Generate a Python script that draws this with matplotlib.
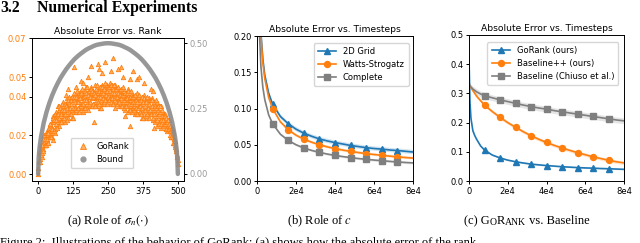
import matplotlib.pyplot as plt
import numpy as np
from matplotlib.lines import Line2D

# (a) Absolute error vs. rank. GoRank errors are given in units of 1e-3.
gorank_rank_even = np.arange(0, 501, 2)
gorank_err_even_milli = [
    0, 6, 6, 11, 8, 12, 9, 14, 16, 13, 16, 19, 15, 15, 20, 17, 20, 23, 16, 22, 19, 26, 21, 22, 19,
    27, 23, 30, 22, 27, 21, 29, 32, 25, 29, 35, 28, 25, 33, 28, 32, 35, 27, 33, 29, 37, 31, 32, 27, 36,
    29, 35, 39, 33, 29, 37, 34, 31, 39, 36, 29, 40, 33, 38, 32, 42, 35, 39, 32, 37, 41, 34, 38, 42, 35,
    41, 36, 43, 34, 39, 32, 40, 42, 35, 38, 45, 38, 34, 42, 37, 40, 43, 35, 41, 36, 45, 39, 40, 35, 43,
    36, 42, 46, 39, 35, 43, 40, 37, 44, 41, 34, 45, 38, 42, 36, 46, 40, 44, 36, 41, 45, 38, 42, 46, 39,
    42, 38, 45, 47, 39, 36, 43, 41, 46, 37, 44, 40, 46, 34, 42, 44, 37, 41, 38, 44, 35, 43, 40, 35, 42,
    42, 37, 44, 35, 40, 33, 41, 42, 35, 38, 44, 37, 33, 40, 35, 38, 41, 33, 39, 34, 41, 35, 36, 31, 39,
    32, 38, 42, 35, 31, 39, 35, 32, 39, 36, 29, 40, 33, 37, 31, 41, 33, 37, 29, 34, 38, 31, 35, 39, 32,
    35, 31, 38, 39, 31, 28, 35, 33, 37, 28, 35, 31, 37, 25, 33, 35, 27, 31, 28, 35, 24, 32, 29, 25, 30,
    31, 26, 31, 24, 27, 22, 28, 28, 23, 24, 28, 22, 19, 24, 19, 21, 22, 16, 18, 14, 17, 13, 13, 9, 10,
    5,
]
gorank_rank_odd = np.arange(1, 500, 2)
gorank_err_odd_milli = [
    3, 7, 6, 12, 10, 15, 11, 15, 12, 18, 20, 15, 18, 15, 21, 18, 21, 16, 21, 24, 19, 26, 19, 24, 22,
    23, 29, 22, 28, 31, 23, 28, 26, 31, 24, 31, 35, 29, 27, 34, 31, 27, 33, 36, 30, 29, 33, 36, 31, 35,
    35, 28, 34, 38, 32, 40, 31, 34, 38, 31, 40, 34, 29, 38, 40, 34, 37, 33, 40, 43, 34, 37, 39, 32, 41,
    39, 35, 42, 44, 36, 33, 40, 38, 43, 34, 42, 38, 45, 33, 41, 43, 36, 40, 37, 44, 35, 43, 40, 36, 42,
    42, 35, 41, 44, 38, 46, 37, 40, 43, 36, 45, 40, 34, 43, 45, 39, 42, 37, 44, 47, 38, 41, 43, 36, 45,
    40, 45, 38, 43, 46, 37, 42, 39, 44, 36, 42, 46, 39, 37, 44, 40, 36, 42, 45, 38, 37, 41, 44, 39, 41,
    35, 41, 45, 38, 34, 42, 39, 35, 42, 39, 32, 43, 36, 40, 33, 43, 36, 40, 32, 37, 40, 33, 37, 41, 34,
    38, 31, 37, 40, 34, 41, 32, 35, 38, 31, 40, 34, 29, 37, 39, 33, 35, 30, 37, 40, 31, 34, 36, 29, 38,
    33, 38, 31, 35, 38, 29, 34, 31, 35, 27, 34, 38, 30, 28, 35, 31, 26, 32, 35, 28, 26, 30, 33, 28, 30,
    26, 30, 26, 29, 23, 27, 28, 23, 26, 23, 20, 25, 23, 19, 24, 19, 21, 16, 18, 15, 17, 12, 13, 9, 7,
]
outlier_rank = [128, 179, 188, 213, 219, 240, 269, 287, 295, 341, 327, 353, 362, 152, 135,
                108, 404, 410, 201, 329, 415, 311, 54, 230, 262, 305, 380, 98, 160]
outlier_err_milli = [55, 50, 56, 57, 54, 58, 60, 54, 55, 53, 49, 49, 50, 48, 45,
                     44, 44, 43, 27, 25, 24, 30, 17.5, 52, 53, 50, 47, 41, 47]

bound_rank = [0, 2, 5] + list(range(10, 500, 10)) + [495, 498, 500]
bound_val = [
    0, 0.063, 0.0995,
    0.14, 0.196, 0.237, 0.271, 0.3, 0.325, 0.347, 0.367, 0.384, 0.4, 0.414, 0.427, 0.439,
    0.449, 0.458, 0.466, 0.474, 0.48, 0.485, 0.49, 0.494, 0.496, 0.498, 0.4996, 0.5,
    0.4996, 0.498, 0.496, 0.494, 0.49, 0.485, 0.48, 0.474, 0.466, 0.458, 0.449, 0.439,
    0.427, 0.414, 0.4, 0.384, 0.367, 0.347, 0.325, 0.3, 0.271, 0.237, 0.196, 0.14,
    0.0995, 0.063, 0,
]

# (b) Role of c.
steps_b = [500, 1000, 2000, 3000, 4000, 6000] + list(range(8000, 80001, 4000))
grid_err = [0.41, 0.29, 0.205, 0.168, 0.146, 0.121, 0.106, 0.089, 0.079, 0.0715, 0.066, 0.0617,
            0.058, 0.0553, 0.053, 0.051, 0.049, 0.0475, 0.046, 0.0448, 0.044, 0.0428, 0.042,
            0.041, 0.040]
watts_err = [0.4, 0.283, 0.2, 0.163, 0.141, 0.115, 0.100, 0.0816, 0.0707, 0.0632, 0.0577,
             0.0535, 0.05, 0.0471, 0.0447, 0.0426, 0.0408, 0.0392, 0.0378, 0.0365, 0.0354,
             0.0343, 0.0333, 0.0324, 0.0316]
complete_err = [0.32, 0.22, 0.158, 0.129, 0.112, 0.091, 0.079, 0.0645, 0.056, 0.050, 0.0456,
                0.0422, 0.0395, 0.0372, 0.0353, 0.0337, 0.0323, 0.031, 0.0299, 0.0289, 0.028,
                0.0271, 0.0263, 0.0256, 0.025]
band_b = [0.003, 0.002, 0.0015]

# (c) GoRank vs. baselines.
steps_c = [0, 500, 1000, 2000, 3000, 4000, 6000] + list(range(8000, 80001, 4000))
gorank_err = [0.42, 0.27, 0.215, 0.172, 0.155, 0.142, 0.12, 0.106, 0.089, 0.079, 0.0715, 0.066,
              0.0617, 0.058, 0.0553, 0.053, 0.051, 0.049, 0.0475, 0.046, 0.0448, 0.044, 0.0428,
              0.042, 0.041, 0.040]
baselinepp_err = [0.33, 0.325, 0.32, 0.31, 0.30, 0.29, 0.275, 0.26, 0.238, 0.218, 0.20, 0.184,
                  0.169, 0.155, 0.143, 0.132, 0.122, 0.113, 0.105, 0.097, 0.090, 0.083, 0.077,
                  0.071, 0.066, 0.062]
baseline_err = [0.33, 0.326, 0.322, 0.315, 0.31, 0.305, 0.298, 0.292, 0.285, 0.278, 0.272,
                0.266, 0.26, 0.255, 0.25, 0.246, 0.241, 0.237, 0.233, 0.229, 0.225, 0.221,
                0.217, 0.213, 0.209, 0.206]
band_c = [0.002, 0.006, 0.01]

BLUE, ORANGE, GRAY = "#1f77b4", "#ff7f0e", "#7f7f7f"
TICK_FS, TITLE_FS, LEG_FS = 6, 6.6, 6

plt.rcParams["mathtext.fontset"] = "stix"
fig = plt.figure(figsize=(6.4, 2.43), dpi=100)
W, H = 640, 243


def add_axes_px(left, top, right, bottom):
    return fig.add_axes([left / W, 1 - bottom / H, (right - left) / W, (bottom - top) / H])


def style(ax):
    ax.tick_params(labelsize=TICK_FS, length=2.5, width=0.7, pad=1.5)
    for s in ax.spines.values():
        s.set_linewidth(0.7)


# Panel (a).
ax_a = add_axes_px(32, 38, 184, 181)
ax_b2 = ax_a.twinx()
tri = dict(marker="^", s=10, facecolor="#ffb066", edgecolor=ORANGE, linewidth=0.6, zorder=2)
ax_a.scatter(gorank_rank_even, np.array(gorank_err_even_milli) / 1000, **tri)
ax_a.scatter(gorank_rank_odd, np.array(gorank_err_odd_milli) / 1000, **tri)
ax_a.scatter(outlier_rank, np.array(outlier_err_milli) / 1000, **tri)
ax_b2.plot(bound_rank, bound_val, color="#8c8c8c", lw=3.2, alpha=0.9,
           solid_capstyle="round")
ax_a.set_xlim(-22, 522)
ax_a.set_ylim(-0.0036, 0.0702)
ax_a.set_yticks([0, 0.02, 0.04, 0.05, 0.07])
ax_a.set_xticks([0, 125, 250, 375, 500])
ax_b2.set_ylim(-0.027, 0.52)
ax_b2.set_yticks([0, 0.25, 0.5])
style(ax_a)
style(ax_b2)
ax_a.tick_params(axis="y", labelcolor=ORANGE)
ax_b2.tick_params(axis="y", labelcolor="#999999")
ax_a.set_title("Absolute Error vs. Rank", fontsize=TITLE_FS, pad=3)
handles = [
    Line2D([], [], ls="none", marker="^", ms=4, mfc="#ffb066", mec=ORANGE, mew=0.6),
    Line2D([], [], ls="none", marker="o", ms=3.5, color="#999999"),
]
ax_b2.legend(handles, ["GoRank", "Bound"], loc="lower center", bbox_to_anchor=(0.46, 0.06),
             fontsize=LEG_FS, handletextpad=0.6, borderpad=0.5, labelspacing=0.5)

# Panel (b).
ax_b = add_axes_px(257, 36, 413, 181)
marks_b = [i for i, s in enumerate(steps_b) if s % 8000 == 0 and s < 80000]
for vals, band, col, mk, lab in zip([grid_err, watts_err, complete_err], band_b,
                                    [BLUE, ORANGE, GRAY], ["^", "o", "s"],
                                    ["2D Grid", "Watts-Strogatz", "Complete"]):
    v = np.array(vals)
    ax_b.fill_between(steps_b, v - band, v + band, color=col, alpha=0.2, lw=0)
    ax_b.plot(steps_b, v, color=col, lw=1.2, marker=mk, ms=4.3, markevery=marks_b, label=lab)
ax_b.set_xlim(0, 80000)
ax_b.set_ylim(0, 0.2)
ax_b.set_yticks([0, 0.05, 0.10, 0.15, 0.20])
ax_b.set_xticks([0, 20000, 40000, 60000, 80000])
ax_b.set_xticklabels(["0", "2e4", "4e4", "6e4", "8e4"])
style(ax_b)
ax_b.set_title("Absolute Error vs. Timesteps", fontsize=TITLE_FS, pad=3)
ax_b.legend(loc="upper right", fontsize=LEG_FS, borderpad=0.5, labelspacing=0.45,
            handlelength=2.2, bbox_to_anchor=(1.0, 0.98))

# Panel (c).
ax_c = add_axes_px(469, 35, 624, 181)
marks_c = [i for i, s in enumerate(steps_c) if s % 8000 == 0 and 0 < s < 80000]
for vals, band, col, mk, lab in zip([gorank_err, baselinepp_err, baseline_err], band_c,
                                    [BLUE, ORANGE, GRAY], ["^", "o", "s"],
                                    ["GoRank (ours)", "Baseline++ (ours)",
                                     "Baseline (Chiuso et al.)"]):
    v = np.array(vals)
    ax_c.fill_between(steps_c, v - band, v + band, color=col, alpha=0.2, lw=0)
    ax_c.plot(steps_c, v, color=col, lw=1.2, marker=mk, ms=4.3, markevery=marks_c, label=lab)
ax_c.set_xlim(0, 80000)
ax_c.set_ylim(0, 0.5)
ax_c.set_yticks([0, 0.1, 0.2, 0.3, 0.4, 0.5])
ax_c.set_xticks([0, 20000, 40000, 60000, 80000])
ax_c.set_xticklabels(["0", "2e4", "4e4", "6e4", "8e4"])
style(ax_c)
ax_c.set_title("Absolute Error vs. Timesteps", fontsize=TITLE_FS, pad=3)
ax_c.legend(loc="upper right", fontsize=LEG_FS, borderpad=0.5, labelspacing=0.45,
            handlelength=2.2, bbox_to_anchor=(0.99, 0.98))

# Paper text around the figure.
serif = "Liberation Serif"
fig.text(0 / W, 1 - 12 / H, "3.2", fontsize=11.3, family=serif, weight="bold", va="baseline")
fig.text(37 / W, 1 - 12 / H, "Numerical Experiments", fontsize=11.3, family=serif,
         weight="bold", va="baseline")
fig.text(108 / W, 1 - 224 / H, r"(a) Role of $\sigma_n(\cdot)$", fontsize=9, family=serif,
         ha="center", va="baseline")
fig.text(320 / W, 1 - 224 / H, r"(b) Role of $c$", fontsize=9, family=serif,
         ha="center", va="baseline")

# (c) caption with small caps for GoRank.
pieces = [("(c) G", 9), ("O", 7), ("R", 9), ("ANK", 7), (" vs. Baseline", 9)]
t = fig.text(464 / W, 1 - 224 / H, pieces[0][0], fontsize=pieces[0][1], family=serif,
             va="baseline")
for txt, fs in pieces[1:]:
    t = ax_c.annotate(txt, xy=(1, 0), xycoords=t, va="bottom", ha="left", fontsize=fs,
                      family=serif, annotation_clip=False)

# Start of the figure caption, cut by the bottom edge as in the page crop.
fig.text(0 / W, 1 - 246 / H,
         "Figure 2:  Illustrations of the behavior of GoRank: (a) shows how the absolute "
         "error of the rank", fontsize=9, family=serif, va="baseline")

fig.savefig("out.png", dpi=100)
